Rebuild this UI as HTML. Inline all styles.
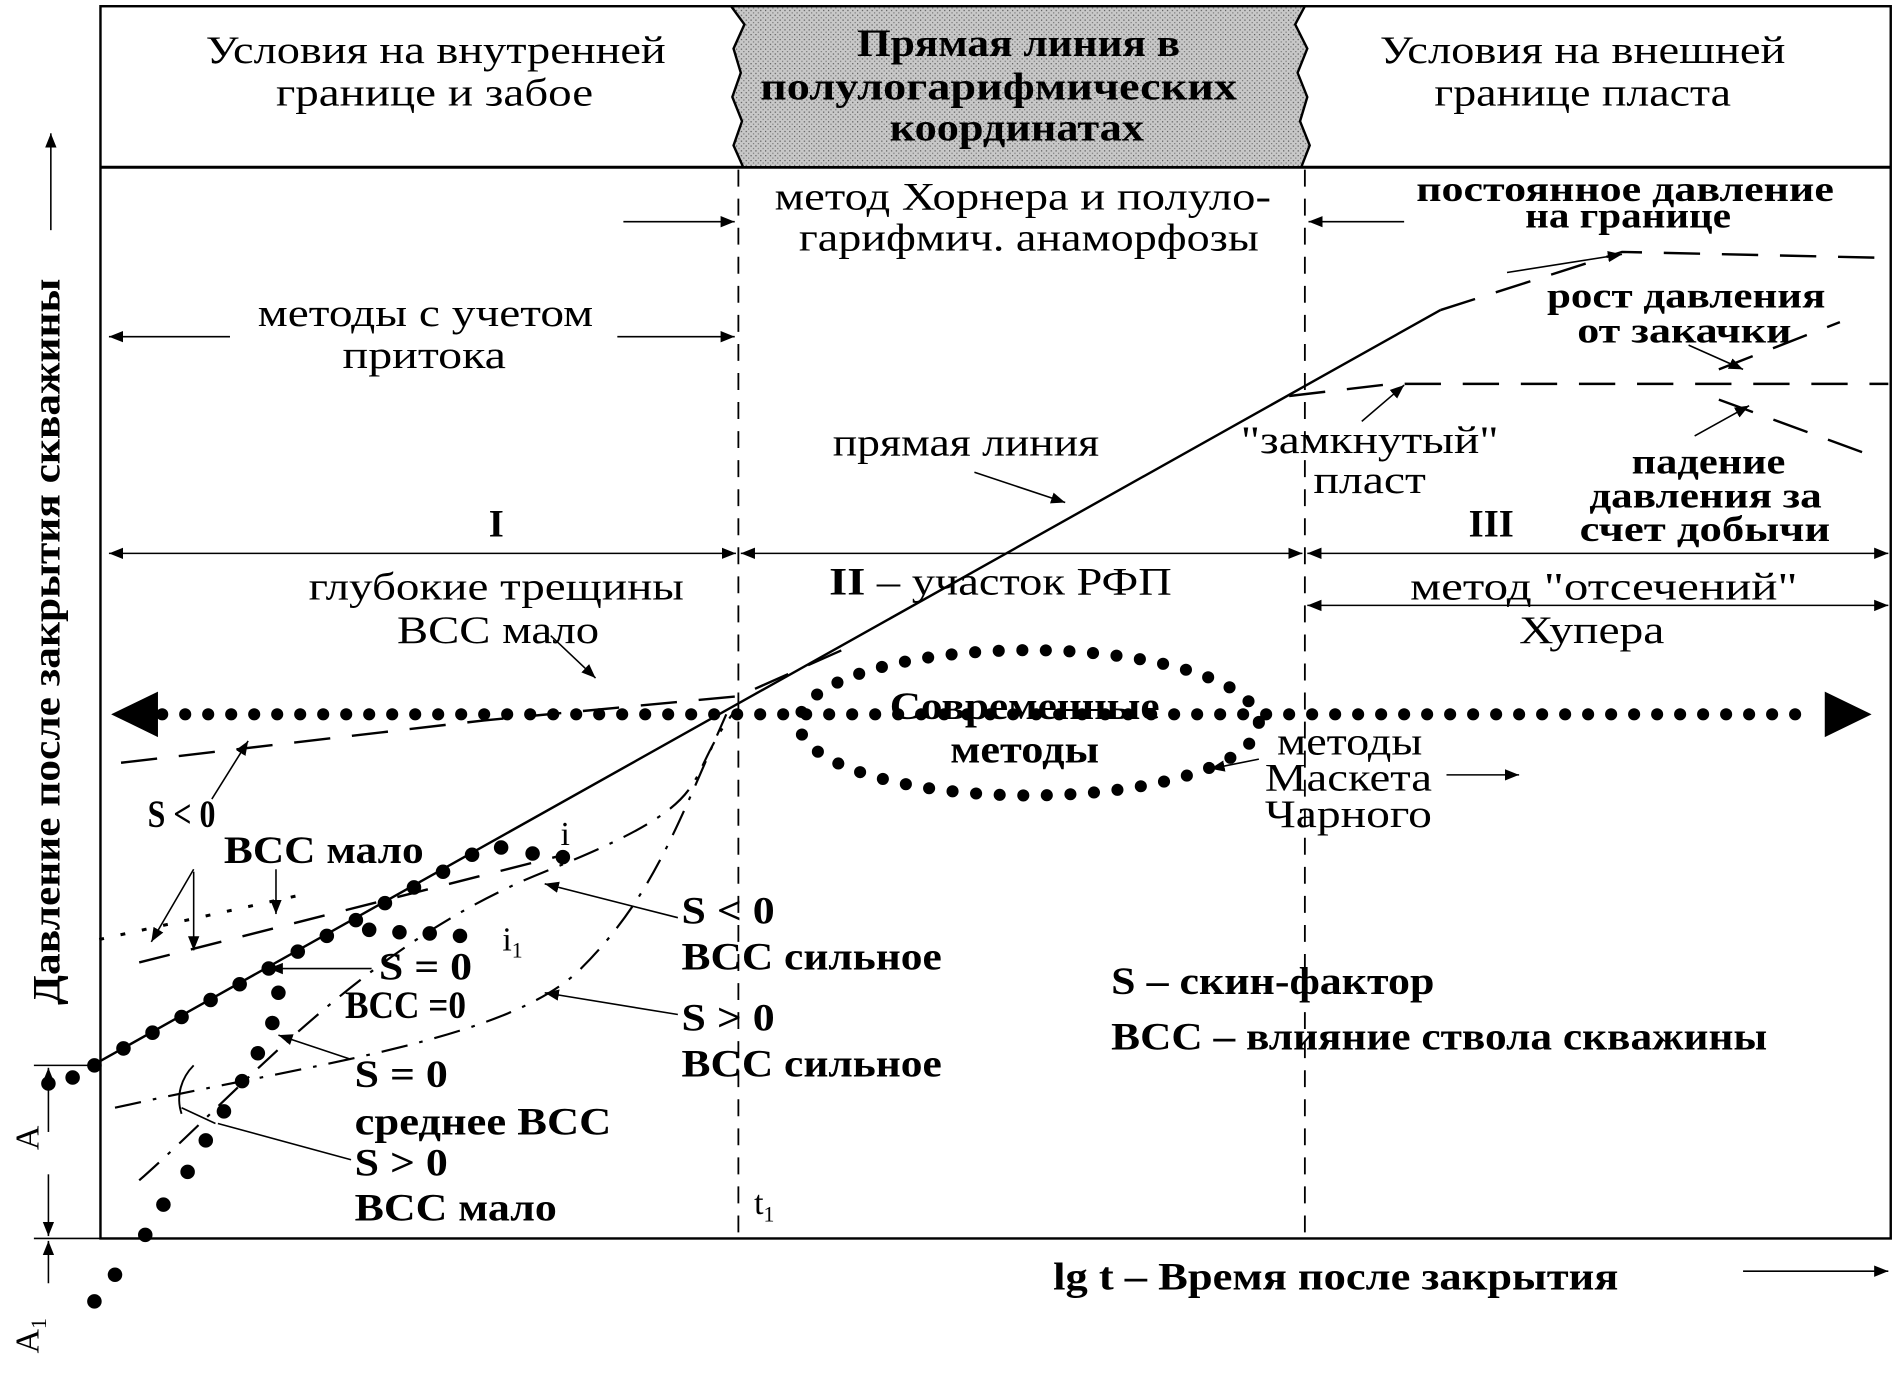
<!DOCTYPE html>
<html><head><meta charset="utf-8"><style>
html,body{margin:0;padding:0;background:#fff}
svg{display:block}
text{font-family:"Liberation Serif",serif;fill:#000}
.b{font-weight:bold}
</style></head><body>
<svg width="1898" height="1373" viewBox="0 0 1568 1134" xmlns="http://www.w3.org/2000/svg">
<defs>
<marker id="a" viewBox="0 0 10 10" refX="10" refY="5" markerWidth="9" markerHeight="9" orient="auto-start-reverse"><path d="M0,1 L10,5 L0,9 z" fill="#000"/></marker>
<pattern id="g" width="4" height="4" patternUnits="userSpaceOnUse"><rect width="4" height="4" fill="#c8c8c8"/><rect width="1" height="1" fill="#555"/><rect x="2" y="2" width="1" height="1" fill="#777"/></pattern>
</defs>
<g stroke="#000" fill="none">
<rect x="83" y="5" width="1479" height="1018" stroke-width="2"/>
<line x1="83" y1="138" x2="1562" y2="138" stroke-width="2.5"/>
<path d="M604,5 L615,20 L606,40 L612,60 L605,80 L613,100 L606,120 L614,138 L1075,138 L1082,120 L1074,100 L1080,80 L1072,60 L1080,40 L1070,20 L1078,5 Z" fill="url(#g)" stroke-width="2"/>
<line x1="610" y1="140" x2="610" y2="1023" stroke-width="1.5" stroke-dasharray="14,10"/>
<line x1="1078" y1="140" x2="1078" y2="1023" stroke-width="1.5" stroke-dasharray="14,10"/>
<line x1="90" y1="457" x2="608" y2="457" stroke-width="1.3" marker-start="url(#a)" marker-end="url(#a)"/>
<line x1="612" y1="457" x2="1076" y2="457" stroke-width="1.3" marker-start="url(#a)" marker-end="url(#a)"/>
<line x1="1080" y1="457" x2="1560" y2="457" stroke-width="1.3" marker-start="url(#a)" marker-end="url(#a)"/>
<line x1="1080" y1="500" x2="1560" y2="500" stroke-width="1.3" marker-start="url(#a)" marker-end="url(#a)"/>
<line x1="515" y1="183" x2="607" y2="183" stroke-width="1.3" marker-end="url(#a)"/>
<line x1="1160" y1="183" x2="1081" y2="183" stroke-width="1.3" marker-end="url(#a)"/>
<line x1="190" y1="278" x2="90" y2="278" stroke-width="1.3" marker-end="url(#a)"/>
<line x1="510" y1="278" x2="607" y2="278" stroke-width="1.3" marker-end="url(#a)"/>
<line x1="80" y1="878" x2="1190" y2="256" stroke-width="2"/>
<path d="M1190,256 L1340,208 L1562,213" stroke-width="2" stroke-dasharray="30,18"/>
<path d="M1065,327 L1150,317 L1420,317 L1560,317" stroke-width="2" stroke-dasharray="30,18"/>
<path d="M1420,305 L1520,266" stroke-width="2" stroke-dasharray="30,18"/>
<path d="M1420,330 L1540,374" stroke-width="2" stroke-dasharray="30,18"/>
<line x1="1245" y1="225" x2="1340" y2="210" stroke-width="1.3" marker-end="url(#a)"/>
<line x1="1395" y1="285" x2="1440" y2="305" stroke-width="1.3" marker-end="url(#a)"/>
<line x1="1400" y1="360" x2="1445" y2="335" stroke-width="1.3" marker-end="url(#a)"/>
<line x1="1125" y1="348" x2="1160" y2="318" stroke-width="1.3" marker-end="url(#a)"/>
<line x1="805" y1="390" x2="880" y2="415" stroke-width="1.3" marker-end="url(#a)"/>
<line x1="455" y1="525" x2="492" y2="560" stroke-width="1.3" marker-end="url(#a)"/>
<line x1="115" y1="590" x2="1500" y2="590" stroke-width="10" stroke-linecap="round" stroke-dasharray="0,19"/>
<path d="M93,590 L130,572 L130,608 Z" fill="#000"/>
<path d="M1545,590 L1508,572 L1508,608 Z" fill="#000"/>
<ellipse cx="850" cy="597" rx="190" ry="60" stroke-width="10" stroke-linecap="round" stroke-dasharray="0,19.5"/>
<line x1="1195" y1="640" x2="1255" y2="640" stroke-width="1.3" marker-end="url(#a)"/>
<line x1="1040" y1="627" x2="1000" y2="635" stroke-width="1.3" marker-end="url(#a)"/>
<path d="M100,630 L400,595 L610,575 L700,535" stroke-width="2" stroke-dasharray="30,18"/>
<line x1="175" y1="660" x2="205" y2="612" stroke-width="1.3" marker-end="url(#a)"/>
<path d="M115,795 L470,705" stroke-width="2" stroke-dasharray="26,18"/>
<path d="M82,776 L245,740" stroke-width="2.5" stroke-dasharray="4,14"/>
<line x1="160" y1="718" x2="125" y2="778" stroke-width="1.3" marker-end="url(#a)"/>
<line x1="160" y1="720" x2="160" y2="785" stroke-width="1.3" marker-end="url(#a)"/>
<line x1="228" y1="718" x2="228" y2="755" stroke-width="1.3" marker-end="url(#a)"/>
<line x1="560" y1="758" x2="450" y2="730" stroke-width="1.3" marker-end="url(#a)"/>
<line x1="560" y1="838" x2="450" y2="820" stroke-width="1.3" marker-end="url(#a)"/>
<line x1="307" y1="800" x2="222" y2="800" stroke-width="1.3" marker-end="url(#a)"/>
<line x1="290" y1="875" x2="230" y2="855" stroke-width="1.3" marker-end="url(#a)"/>
<line x1="290" y1="958" x2="180" y2="928" stroke-width="1.3"/>
<line x1="150" y1="915" x2="178" y2="928" stroke-width="1.3"/>
<path d="M115,975 C200,900 300,780 450,720 S560,650 605,590" stroke-width="1.8" stroke-dasharray="22,10,3,10"/>
<path d="M95,915 C250,880 420,860 480,800 S560,680 600,590" stroke-width="1.8" stroke-dasharray="22,10,3,10"/>
<path d="M150,920 C145,905 150,890 160,880" stroke-width="1.6"/>
<g fill="#000" stroke="none">
<circle cx="78" cy="880" r="6"/><circle cx="102" cy="866" r="6"/><circle cx="126" cy="853" r="6"/><circle cx="150" cy="840" r="6"/><circle cx="174" cy="826" r="6"/><circle cx="198" cy="813" r="6"/><circle cx="222" cy="800" r="6"/><circle cx="246" cy="786" r="6"/><circle cx="270" cy="773" r="6"/><circle cx="294" cy="760" r="6"/><circle cx="318" cy="746" r="6"/><circle cx="342" cy="733" r="6"/><circle cx="366" cy="720" r="6"/><circle cx="390" cy="706" r="6"/><circle cx="414" cy="700" r="6"/><circle cx="440" cy="705" r="6"/><circle cx="465" cy="708" r="6"/>
<circle cx="305" cy="768" r="6"/><circle cx="330" cy="770" r="6"/><circle cx="355" cy="771" r="6"/><circle cx="380" cy="773" r="6"/>
<circle cx="40" cy="895" r="6"/><circle cx="60" cy="890" r="6"/>
<circle cx="78" cy="1075" r="6"/><circle cx="95" cy="1053" r="6"/><circle cx="120" cy="1020" r="6"/><circle cx="135" cy="995" r="6"/><circle cx="155" cy="968" r="6"/><circle cx="170" cy="942" r="6"/><circle cx="185" cy="918" r="6"/><circle cx="200" cy="893" r="6"/><circle cx="213" cy="870" r="6"/><circle cx="225" cy="845" r="6"/><circle cx="230" cy="820" r="6"/>
</g>
<line x1="42" y1="190" x2="42" y2="110" stroke-width="1.3" marker-end="url(#a)"/>
<line x1="1440" y1="1050" x2="1560" y2="1050" stroke-width="1.3" marker-end="url(#a)"/>
<line x1="28" y1="880" x2="83" y2="880" stroke-width="1.3"/>
<line x1="28" y1="1023" x2="83" y2="1023" stroke-width="1.3"/>
<line x1="40" y1="935" x2="40" y2="882" stroke-width="1.3" marker-end="url(#a)"/>
<line x1="40" y1="970" x2="40" y2="1021" stroke-width="1.3" marker-end="url(#a)"/>
<line x1="40" y1="1060" x2="40" y2="1025" stroke-width="1.3" marker-end="url(#a)"/>
</g>
<g font-size="32" lengthAdjust="spacingAndGlyphs">
<text x="170" y="52" textLength="380" lengthAdjust="spacingAndGlyphs">Условия на внутренней</text>
<text x="228" y="87" textLength="262" lengthAdjust="spacingAndGlyphs">границе и забое</text>
<text x="1140" y="52" textLength="335" lengthAdjust="spacingAndGlyphs">Условия на внешней</text>
<text x="1185" y="87" textLength="245" lengthAdjust="spacingAndGlyphs">границе пласта</text>
<text x="708" y="46" class="b" textLength="267" lengthAdjust="spacingAndGlyphs">Прямая линия в</text>
<text x="628" y="82" class="b" textLength="394" lengthAdjust="spacingAndGlyphs">полулогарифмических</text>
<text x="735" y="116" class="b" textLength="210" lengthAdjust="spacingAndGlyphs">координатах</text>
<text x="640" y="173" textLength="410" lengthAdjust="spacingAndGlyphs">метод Хорнера и полуло-</text>
<text x="660" y="207" textLength="380" lengthAdjust="spacingAndGlyphs">гарифмич. анаморфозы</text>
<text x="213" y="269" textLength="277" lengthAdjust="spacingAndGlyphs">методы с учетом</text>
<text x="283" y="304" textLength="135" lengthAdjust="spacingAndGlyphs">притока</text>
<text x="688" y="376" textLength="220" lengthAdjust="spacingAndGlyphs">прямая линия</text>
<text x="1025" y="374" textLength="213" lengthAdjust="spacingAndGlyphs">"замкнутый"</text>
<text x="1085" y="407" textLength="93" lengthAdjust="spacingAndGlyphs">пласт</text>
<text x="410" y="443" class="b" text-anchor="middle">I</text>
<text x="1232" y="443" class="b" text-anchor="middle">III</text>
<text x="255" y="495" textLength="310" lengthAdjust="spacingAndGlyphs">глубокие трещины</text>
<text x="328" y="531" textLength="167" lengthAdjust="spacingAndGlyphs">ВСС мало</text>
<text x="685" y="491" textLength="283" lengthAdjust="spacingAndGlyphs"><tspan class="b">II</tspan> – участок РФП</text>
<text x="1165" y="495" textLength="320" lengthAdjust="spacingAndGlyphs">метод "отсечений"</text>
<text x="1255" y="531" textLength="120" lengthAdjust="spacingAndGlyphs">Хупера</text>
<text x="1055" y="623" textLength="120" lengthAdjust="spacingAndGlyphs">методы</text>
<text x="1045" y="653" textLength="138" lengthAdjust="spacingAndGlyphs">Маскета</text>
<text x="1045" y="683" textLength="138" lengthAdjust="spacingAndGlyphs">Чарного</text>
<text x="735" y="594" class="b" textLength="223" lengthAdjust="spacingAndGlyphs">Современные</text>
<text x="785" y="630" class="b" textLength="123" lengthAdjust="spacingAndGlyphs">методы</text>
<text x="1170" y="166" class="b" font-size="30" textLength="345" lengthAdjust="spacingAndGlyphs">постоянное давление</text>
<text x="1260" y="188" class="b" font-size="30" textLength="170" lengthAdjust="spacingAndGlyphs">на границе</text>
<text x="1278" y="254" class="b" font-size="30" textLength="230" lengthAdjust="spacingAndGlyphs">рост давления</text>
<text x="1303" y="283" class="b" font-size="30" textLength="177" lengthAdjust="spacingAndGlyphs">от закачки</text>
<text x="1348" y="391" class="b" font-size="30" textLength="127" lengthAdjust="spacingAndGlyphs">падение</text>
<text x="1313" y="419" class="b" font-size="30" textLength="192" lengthAdjust="spacingAndGlyphs">давления за</text>
<text x="1305" y="447" class="b" font-size="30" textLength="207" lengthAdjust="spacingAndGlyphs">счет добычи</text>
<text x="122" y="683" class="b" textLength="56" lengthAdjust="spacingAndGlyphs">S &lt; 0</text>
<text x="185" y="713" class="b" textLength="165" lengthAdjust="spacingAndGlyphs">ВСС мало</text>
<text x="563" y="763" class="b" textLength="77" lengthAdjust="spacingAndGlyphs">S &lt; 0</text>
<text x="563" y="801" class="b" textLength="215" lengthAdjust="spacingAndGlyphs">ВСС сильное</text>
<text x="563" y="851" class="b" textLength="77" lengthAdjust="spacingAndGlyphs">S &gt; 0</text>
<text x="563" y="889" class="b" textLength="215" lengthAdjust="spacingAndGlyphs">ВСС сильное</text>
<text x="313" y="809" class="b" textLength="77" lengthAdjust="spacingAndGlyphs">S = 0</text>
<text x="285" y="841" class="b" textLength="100" lengthAdjust="spacingAndGlyphs">ВСС =0</text>
<text x="293" y="898" class="b" textLength="77" lengthAdjust="spacingAndGlyphs">S = 0</text>
<text x="293" y="937" class="b" textLength="212" lengthAdjust="spacingAndGlyphs">среднее ВСС</text>
<text x="293" y="971" class="b" textLength="77" lengthAdjust="spacingAndGlyphs">S &gt; 0</text>
<text x="293" y="1008" class="b" textLength="167" lengthAdjust="spacingAndGlyphs">ВСС мало</text>
<text x="918" y="821" class="b" textLength="267" lengthAdjust="spacingAndGlyphs">S – скин-фактор</text>
<text x="918" y="867" class="b" textLength="542" lengthAdjust="spacingAndGlyphs">ВСС – влияние ствола скважины</text>
<text x="870" y="1065" class="b" textLength="467" lengthAdjust="spacingAndGlyphs">lg t – Время после закрытия</text>
</g>
<g font-size="28">
<text x="463" y="698">i</text>
<text x="415" y="785">i<tspan font-size="18" dy="6">1</tspan></text>
<text x="623" y="1003">t<tspan font-size="18" dy="6">1</tspan></text>
<text transform="translate(32,950) rotate(-90)">A</text>
<text transform="translate(32,1118) rotate(-90)">A<tspan font-size="18" dy="6">1</tspan></text>
</g>
<text transform="translate(49,530) rotate(-90)" text-anchor="middle" font-size="32" class="b" textLength="600" lengthAdjust="spacingAndGlyphs">Давление после закрытия скважины</text>
</svg>
</body></html>
